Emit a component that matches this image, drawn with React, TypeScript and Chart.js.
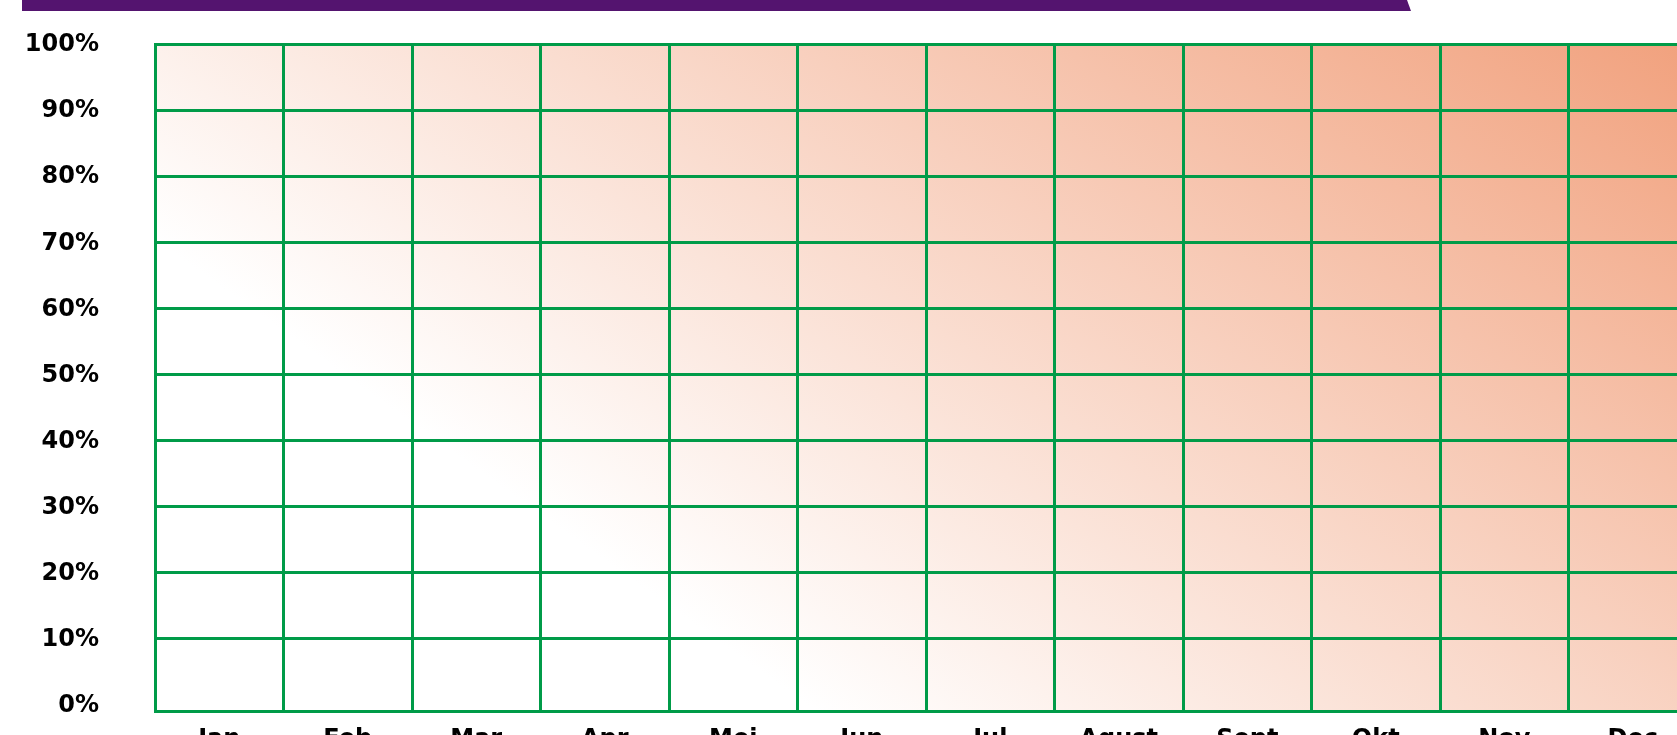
import React, { useEffect, useRef } from "react";
import { Chart, registerables } from "chart.js";

Chart.register(...registerables);

// ---- Data ----
const months: string[] = ["Jan", "Feb", "Mar", "Apr", "Mei", "Jun", "Jul", "Agust", "Sept", "Okt", "Nov", "Dec"];
const percentTicks: number[] = [0, 10, 20, 30, 40, 50, 60, 70, 80, 90, 100];
// The reference is an empty grid template: no values are plotted yet.
const seriesValues: (number | null)[] = [null, null, null, null, null, null, null, null, null, null, null, null];

// ---- Styles ----
const GREEN = "#009B48";
const PURPLE = "#54146F";
const GRAD_END = "rgb(241,160,124)";
const FONT = { family: "'DejaVu Sans', Verdana, sans-serif", weight: "bold" as const, size: 24 };

const zeroPadding = (s: any) => {
  s.paddingTop = 0;
  s.paddingBottom = 0;
  s.paddingLeft = 0;
  s.paddingRight = 0;
};

const decorPlugin = {
  id: "decor",
  beforeDraw(chart: any) {
    const { ctx, chartArea: a } = chart;
    ctx.save();
    // diagonal gradient fill of the plot area (white bottom-left -> salmon top-right)
    const W = a.right - a.left;
    const H = a.bottom - a.top;
    const A = 0.84, B = 0.51, C = -0.36;
    const gx = A / W, gy = -B / H;
    const g2 = gx * gx + gy * gy;
    const dx = gx / g2, dy = gy / g2;
    const x0 = a.left - C * dx, y0 = a.bottom - C * dy;
    const grad = ctx.createLinearGradient(x0, y0, x0 + dx, y0 + dy);
    grad.addColorStop(0, "#ffffff");
    grad.addColorStop(1, GRAD_END);
    ctx.fillStyle = grad;
    ctx.fillRect(a.left, a.top, W, H);
    // purple banner at the top of the page
    ctx.fillStyle = PURPLE;
    ctx.beginPath();
    ctx.moveTo(22, 0);
    ctx.lineTo(1407, 0);
    ctx.lineTo(1411, 11);
    ctx.lineTo(22, 11);
    ctx.closePath();
    ctx.fill();
    ctx.restore();
  },
};

export default function App() {
  const ref = useRef<HTMLCanvasElement | null>(null);

  useEffect(() => {
    if (!ref.current) return;
    const chart = new Chart(ref.current, {
      type: "bar",
      data: {
        labels: months,
        datasets: [{ label: "Persentase", data: seriesValues as any, backgroundColor: "rgba(0,0,0,0)" }],
      },
      options: {
        animation: false,
        responsive: false,
        maintainAspectRatio: false,
        layout: { padding: { top: 44, right: 23, left: 0, bottom: 0 } },
        plugins: { legend: { display: false }, tooltip: { enabled: false } },
        scales: {
          x: {
            type: "category",
            offset: true,
            grid: { offset: true, color: GREEN, lineWidth: 3, drawTicks: false },
            border: { color: GREEN, width: 3 },
            ticks: { color: "#000", font: FONT, padding: 14, maxRotation: 0, autoSkip: false },
            afterFit: (s: any) => {
              s.height = 59;
              zeroPadding(s);
            },
          },
          y: {
            type: "linear",
            min: -0.9,
            max: 100,
            afterBuildTicks: (s: any) => {
              s.ticks = percentTicks.map((v) => ({ value: v }));
            },
            grid: {
              color: (c: any) => (c.tick && c.tick.value === 0 ? "rgba(0,0,0,0)" : GREEN),
              lineWidth: 3,
              drawTicks: false,
            },
            border: { color: GREEN, width: 3 },
            ticks: {
              color: "#000",
              font: FONT,
              padding: 56,
              labelOffset: 1,
              callback: (v: any) => v + "%",
            },
            afterFit: (s: any) => {
              s.width = 155;
              zeroPadding(s);
            },
          },
        },
      },
      plugins: [decorPlugin],
    });
    return () => chart.destroy();
  }, []);

  return (
    <div style={{ position: "absolute", left: 0, top: 0, width: 1677, height: 735, overflow: "hidden", background: "#fff" }}>
      <canvas ref={ref} width={1720} height={770} style={{ display: "block" }} />
    </div>
  );
}
